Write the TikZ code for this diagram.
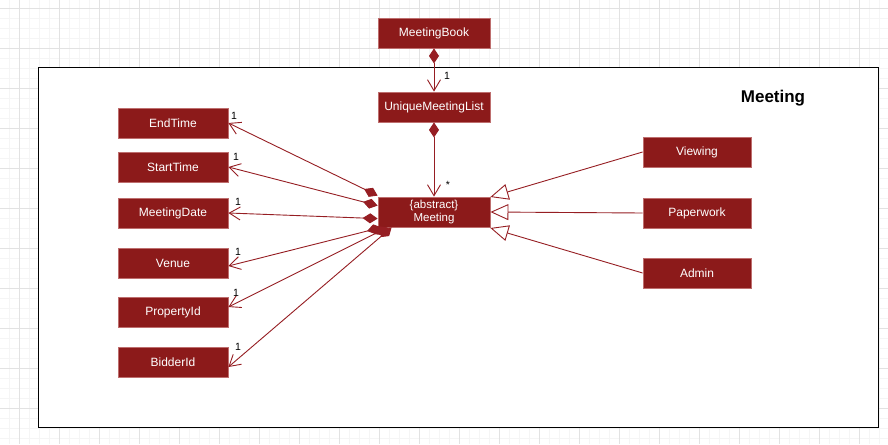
\documentclass[tikz,border=0pt]{standalone}
\usepackage{fontspec}
\setmainfont{Liberation Sans}
\usetikzlibrary{arrows.meta,calc}
\definecolor{boxfill}{RGB}{140,26,26}
\definecolor{boxedge}{RGB}{190,110,110}
\definecolor{linkcol}{RGB}{150,30,35}
\definecolor{gridmajor}{RGB}{226,226,226}
\definecolor{gridminor}{RGB}{245,245,245}
\tikzset{
  cls/.style={draw=boxedge, line width=0.8pt, fill=boxfill, text=white, inner sep=0pt,
    minimum height=30pt, font=\fontsize{12}{13.5}\selectfont, align=center},
  leftcls/.style={cls, minimum width=110pt},
  midcls/.style={cls, minimum width=112pt},
  rightcls/.style={cls, minimum width=108pt},
  comp/.style={draw=linkcol, line width=0.9pt,
    {Diamond[length=15pt,width=10pt,fill=linkcol]}-{Straight Barb[length=11pt,width=13pt]}},
  gen/.style={draw=linkcol, line width=0.9pt,
    -{Triangle[open,length=18pt,width=16pt,fill=white]}},
  mult/.style={font=\fontsize{10.5}{12}\selectfont, text=black, inner sep=0pt}
}
\begin{document}
\begin{tikzpicture}[x=1pt,y=-1pt]
\useasboundingbox (0,0) rectangle (888,444);
% background grid
\fill[white] (0,0) rectangle (888,444);
\foreach \gx in {0,10,...,880} {\draw[gridminor,line width=0.6pt] (\gx+9.3,0) -- (\gx+9.3,444);}
\foreach \gy in {0,10,...,440} {\draw[gridminor,line width=0.6pt] (0,\gy+8.3) -- (888,\gy+8.3);}
\foreach \gx in {0,40,...,880} {\draw[gridmajor,line width=0.8pt] (\gx+19.3,0) -- (\gx+19.3,444);}
\foreach \gy in {0,40,...,440} {\draw[gridmajor,line width=0.8pt] (0,\gy+8.3) -- (888,\gy+8.3);}
% package frame
\node[draw=black, fill=white, line width=1.1pt, minimum width=840pt, minimum height=360pt, inner sep=0pt, anchor=north west] (frame) at (38,67) {};
\node[font=\fontsize{17}{19}\selectfont\bfseries] (title) at (773,98) {Meeting};
% classes
\node[midcls] (book) at (434,33) {MeetingBook};
\node[midcls] (uml) at (434,107) {UniqueMeetingList};
\node[midcls, font=\fontsize{11.5}{12.5}\selectfont] (meeting) at (434,212) {\{abstract\}\\Meeting};
\node[leftcls] (endtime) at (173,123) {EndTime};
\node[leftcls] (starttime) at (173,167) {StartTime};
\node[leftcls] (mdate) at (173,213) {MeetingDate};
\node[leftcls] (venue) at (173,263) {Venue};
\node[leftcls] (propid) at (173,312) {PropertyId};
\node[leftcls] (bidder) at (173,362) {BidderId};
\node[rightcls] (viewing) at (697,152) {Viewing};
\node[rightcls] (paper) at (697,213) {Paperwork};
\node[rightcls] (admin) at (697,273) {Admin};
% attachment points on Meeting
\coordinate (s1) at ($(meeting.north west)+(0,-1)$);
\coordinate (s2) at ($(meeting.north west)+(0,9)$);
\coordinate (s3) at ($(meeting.north west)+(0,22)$);
\coordinate (s4) at ($(meeting.south west)+(4,0)$);
\coordinate (s5) at ($(meeting.south west)+(10,0)$);
\coordinate (s6) at ($(meeting.south west)+(14,0)$);
\coordinate (t4) at ($(venue.east)+(0,3)$);
\coordinate (t5) at ($(propid.east)+(0,-5)$);
\coordinate (t6) at ($(bidder.east)+(0,5)$);
\coordinate (g1) at ($(meeting.east)+(0,-15)$);
\coordinate (g3) at ($(meeting.east)+(0,16)$);
% compositions
\draw[comp] (book.south) -- (uml.north);
\draw[comp] (uml.south) -- (meeting.north);
\draw[comp] (s1) -- (endtime.east);
\draw[comp] (s2) -- (starttime.east);
\draw[comp] (s3) -- (mdate.east);
\draw[comp] (s4) -- (t4);
\draw[comp] (s5) -- (t5);
\draw[comp] (s6) -- (t6);
% generalisations
\draw[gen] (viewing.west) -- (g1);
\draw[gen] (paper.west) -- (meeting.east);
\draw[gen] (admin.west) -- (g3);
% multiplicities
\node[mult] (m0) at (447,76) {1};
\node[mult] (mstar) at (448,185) {*};
\node[mult] (m1) at (234,116) {1};
\node[mult] (m2) at (236,157) {1};
\node[mult] (m3) at (238,202) {1};
\node[mult] (m4) at (238,252) {1};
\node[mult] (m5) at (236,293) {1};
\node[mult] (m6) at (238,347) {1};
\end{tikzpicture}
\end{document}
